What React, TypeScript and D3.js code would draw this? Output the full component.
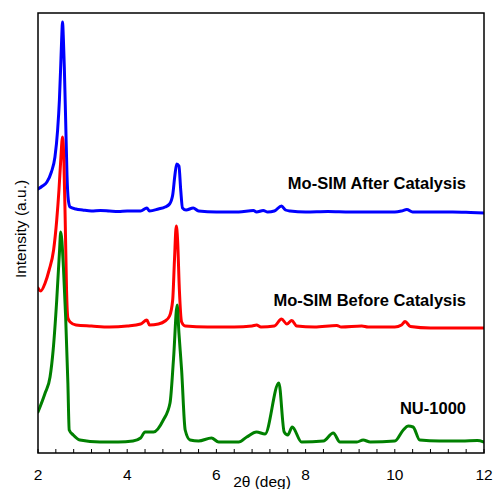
import React from "react";
import * as d3 from "d3";

// 2θ (deg) and intensity (a.u., stacked offsets included)
const afterCatalysis: [number, number][] = [
  [2.0, 264], [2.1, 267], [2.2, 271], [2.3, 281], [2.38, 296], [2.44, 323], [2.48, 353],
  [2.51, 388], [2.53, 413], [2.55, 431], [2.57, 413], [2.59, 386], [2.62, 333], [2.65, 278],
  [2.68, 253], [2.72, 246], [2.85, 244], [3.0, 243], [3.2, 242], [3.4, 242.5], [3.6, 242],
  [3.8, 241.5], [4.0, 242], [4.3, 242], [4.44, 245], [4.5, 242], [4.7, 244], [4.85, 246],
  [4.95, 249], [5.02, 258], [5.07, 278], [5.11, 289], [5.16, 287], [5.2, 263], [5.24, 245],
  [5.32, 243], [5.48, 245], [5.6, 242], [6.0, 241], [6.5, 241], [6.83, 242.5], [6.9, 241],
  [7.05, 242.5], [7.15, 241], [7.3, 242], [7.46, 247], [7.55, 243], [7.65, 242], [8.0, 241],
  [8.5, 241.5], [9.0, 241], [9.5, 241], [10.0, 241], [10.15, 242], [10.27, 243.5], [10.4, 241],
  [10.8, 241], [11.3, 241], [11.7, 240.5], [12.0, 240],
];

const beforeCatalysis: [number, number][] = [
  [2.0, 165], [2.06, 162], [2.16, 170], [2.25, 183], [2.35, 203], [2.42, 233], [2.47, 263],
  [2.51, 293], [2.55, 316], [2.58, 293], [2.61, 233], [2.64, 163], [2.67, 135], [2.72, 131],
  [2.85, 128], [3.2, 127], [3.6, 126], [4.0, 127], [4.3, 129], [4.44, 133], [4.5, 128],
  [4.7, 129], [4.85, 132], [4.95, 137], [5.02, 153], [5.06, 193], [5.1, 227], [5.13, 213],
  [5.17, 163], [5.22, 131], [5.3, 127], [5.8, 126], [6.4, 126], [6.8, 127], [6.9, 128],
  [7.0, 126], [7.3, 127], [7.46, 134], [7.58, 129], [7.69, 132.5], [7.8, 127], [8.2, 126],
  [8.7, 127.5], [8.8, 126], [9.26, 127], [9.4, 126], [10.0, 126], [10.15, 128], [10.23, 131.5],
  [10.35, 126.5], [10.8, 125], [11.5, 125], [12.0, 125],
];

const nu1000: [number, number][] = [
  [2.0, 41], [2.16, 60], [2.27, 76], [2.34, 103], [2.42, 153], [2.48, 200], [2.51, 221],
  [2.57, 186], [2.62, 136], [2.67, 70], [2.7, 23], [2.79, 18], [2.94, 13], [3.39, 11],
  [3.8, 11], [4.13, 12], [4.3, 15], [4.4, 21], [4.59, 21], [4.81, 33], [4.96, 50], [5.04, 95],
  [5.12, 148], [5.16, 120], [5.22, 83], [5.3, 23], [5.41, 13], [5.6, 12], [5.89, 15],
  [6.05, 11], [6.5, 11], [6.68, 16], [6.9, 21], [7.09, 19], [7.4, 70], [7.52, 21], [7.6, 18],
  [7.7, 26], [7.91, 11], [8.4, 12], [8.62, 20], [8.77, 11], [9.15, 11], [9.29, 13], [9.45, 11],
  [10.0, 12], [10.19, 23], [10.3, 27], [10.41, 26], [10.56, 13], [11.0, 12], [11.5, 12],
  [11.85, 12.5], [12.0, 11],
];

const seriesNames = ["Mo-SIM After Catalysis", "Mo-SIM Before Catalysis", "NU-1000"];
const seriesColors = ["#0000ff", "#ff0000", "#008000"];
const labelY = [264, 147, 39]; // label baseline positions in intensity units
const xTicks = d3.range(2, 12.001, 0.4);
const xTickLabels = [2, 4, 6, 8, 10, 12];

export default function App() {
  const W = 495, H = 489;
  const m = { left: 38, right: 484, top: 13, bottom: 453 };
  const x = d3.scaleLinear().domain([2, 12]).range([m.left, m.right]);
  const y = d3.scaleLinear().domain([0, 440]).range([m.bottom, m.top]);
  const line = d3.line<[number, number]>().x((d) => x(d[0])).y((d) => y(d[1])).curve(d3.curveMonotoneX);
  const data = [afterCatalysis, beforeCatalysis, nu1000];
  const font = "Arial, 'Liberation Sans', sans-serif";

  return (
    <div style={{ position: "fixed", left: 0, top: 0 }}>
      <svg width={W} height={H} style={{ display: "block", background: "#fff" }}>
        <defs>
          <clipPath id="plot">
            <rect x={m.left} y={m.top} width={m.right - m.left} height={m.bottom - m.top} />
          </clipPath>
        </defs>
        <g clipPath="url(#plot)">
          {data.map((d, i) => (
            <path key={i} d={line(d) || ""} fill="none" stroke={seriesColors[i]}
              strokeWidth={3} strokeLinejoin="round" strokeLinecap="round" />
          ))}
        </g>
        {xTicks.map((t, i) => (
          <line key={i} x1={x(t)} x2={x(t)} y1={m.bottom} y2={m.bottom - 4} stroke="#000" strokeWidth={1} />
        ))}
        <rect x={m.left} y={m.top} width={m.right - m.left} height={m.bottom - m.top}
          fill="none" stroke="#000" strokeWidth={1.5} />
        {xTickLabels.map((t) => (
          <text key={t} x={x(t)} y={479.5} textAnchor="middle" fontFamily={font} fontSize={15.5} fill="#000">
            {t}
          </text>
        ))}
        <text x={262} y={486.5} textAnchor="middle" fontFamily={font} fontSize={15.5} fill="#000">
          2θ (deg)
        </text>
        <text transform={`translate(25.5,229) rotate(-90)`} textAnchor="middle" fontFamily={font}
          fontSize={15.5} fill="#000">
          Intensity (a.u.)
        </text>
        {seriesNames.map((n, i) => (
          <text key={n} x={466} y={y(labelY[i])} textAnchor="end" fontFamily={font} fontWeight="bold"
            fontSize={16.5} fill="#000">
            {n}
          </text>
        ))}
      </svg>
    </div>
  );
}
